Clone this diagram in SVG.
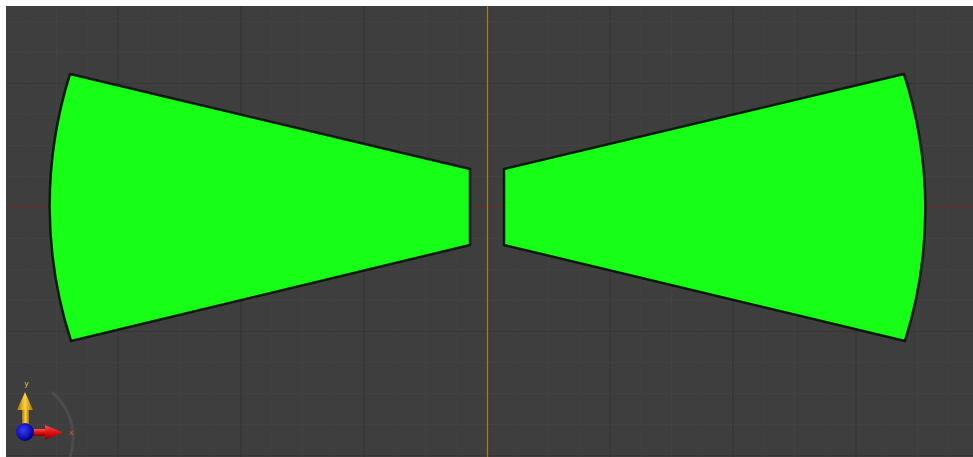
<svg xmlns="http://www.w3.org/2000/svg" width="973" height="457" viewBox="0 0 973 457">
<defs>
<style>
.minor{stroke:#424242;stroke-width:1}
.major{stroke:#363636;stroke-width:1.2}
.shape{fill:#17ff17;stroke:#0a1a0a;stroke-width:2.5;stroke-linejoin:round}
.lbl{font-family:"Liberation Sans",Arial,sans-serif;font-size:8px}
</style>
<radialGradient id="blue" cx="0.4" cy="0.4" r="0.6">
<stop offset="0" stop-color="#3a3aff"/>
<stop offset="1" stop-color="#00008a"/>
</radialGradient>
<linearGradient id="yel" x1="0" y1="0" x2="1" y2="0">
<stop offset="0" stop-color="#a07800"/>
<stop offset="0.5" stop-color="#ffd040"/>
<stop offset="1" stop-color="#a07800"/>
</linearGradient>
<linearGradient id="red" x1="0" y1="0" x2="0" y2="1">
<stop offset="0" stop-color="#ff5050"/>
<stop offset="0.5" stop-color="#e01010"/>
<stop offset="1" stop-color="#800000"/>
</linearGradient>
</defs>
<rect x="0" y="0" width="973" height="457" fill="#ffffff"/>
<rect x="6" y="6" width="967" height="451" fill="#3e3e3e"/>
<g id="grid">
<g class="minor">
<path d="M25.7 6V457M56.5 6V457M87.2 6V457M148.7 6V457M179.5 6V457M210.2 6V457M271.7 6V457M302.5 6V457M333.2 6V457M394.7 6V457M425.5 6V457M456.2 6V457M517.7 6V457M548.5 6V457M579.2 6V457M640.7 6V457M671.5 6V457M702.2 6V457M763.7 6V457M794.5 6V457M825.2 6V457M886.7 6V457M917.5 6V457M948.2 6V457"/>
<path d="M6 21.5H973M6 52.5H973M6 114.5H973M6 145.5H973M6 176.5H973M6 238.5H973M6 269.5H973M6 300.5H973M6 362.5H973M6 393.5H973M6 424.5H973"/>
</g>
<g class="major">
<path d="M118 6V457M241 6V457M364 6V457M610 6V457M733 6V457M856 6V457"/>
<path d="M6 83.5H973M6 331.5H973M6 455.5H973"/>
</g>
<path d="M6 207.5H973" stroke="#6a2a2a" stroke-width="1.2"/>
<path d="M487.5 6V457" stroke="#a08018" stroke-width="1.2"/>
</g>
<g id="left-sector">
<path class="shape" d="M70 74 L470 169 L470 245 L71 341 A437.7 437.7 0 0 1 70 74 Z"/>
</g>
<g id="right-sector">
<path class="shape" d="M904 74 L504 169 L504 245 L905 341 A437.7 437.7 0 0 0 904 74 Z"/>
</g>
<g id="axis-gizmo">
<path d="M52 392 A60 60 0 0 1 70 457" fill="none" stroke="#4c4c4c" stroke-width="3"/>
<rect x="22" y="408" width="7" height="20" fill="url(#yel)"/>
<polygon points="25,392 17,410 33,410" fill="url(#yel)"/>
<rect x="28" y="429" width="20" height="7" fill="url(#red)"/>
<polygon points="63,432.5 45,425 45,440" fill="url(#red)"/>
<circle cx="25" cy="432" r="9" fill="url(#blue)"/>
<text class="lbl" x="24.5" y="386" fill="#d0c060">y</text>
<text class="lbl" x="69" y="435" fill="#c06030">x</text>
</g>
</svg>
